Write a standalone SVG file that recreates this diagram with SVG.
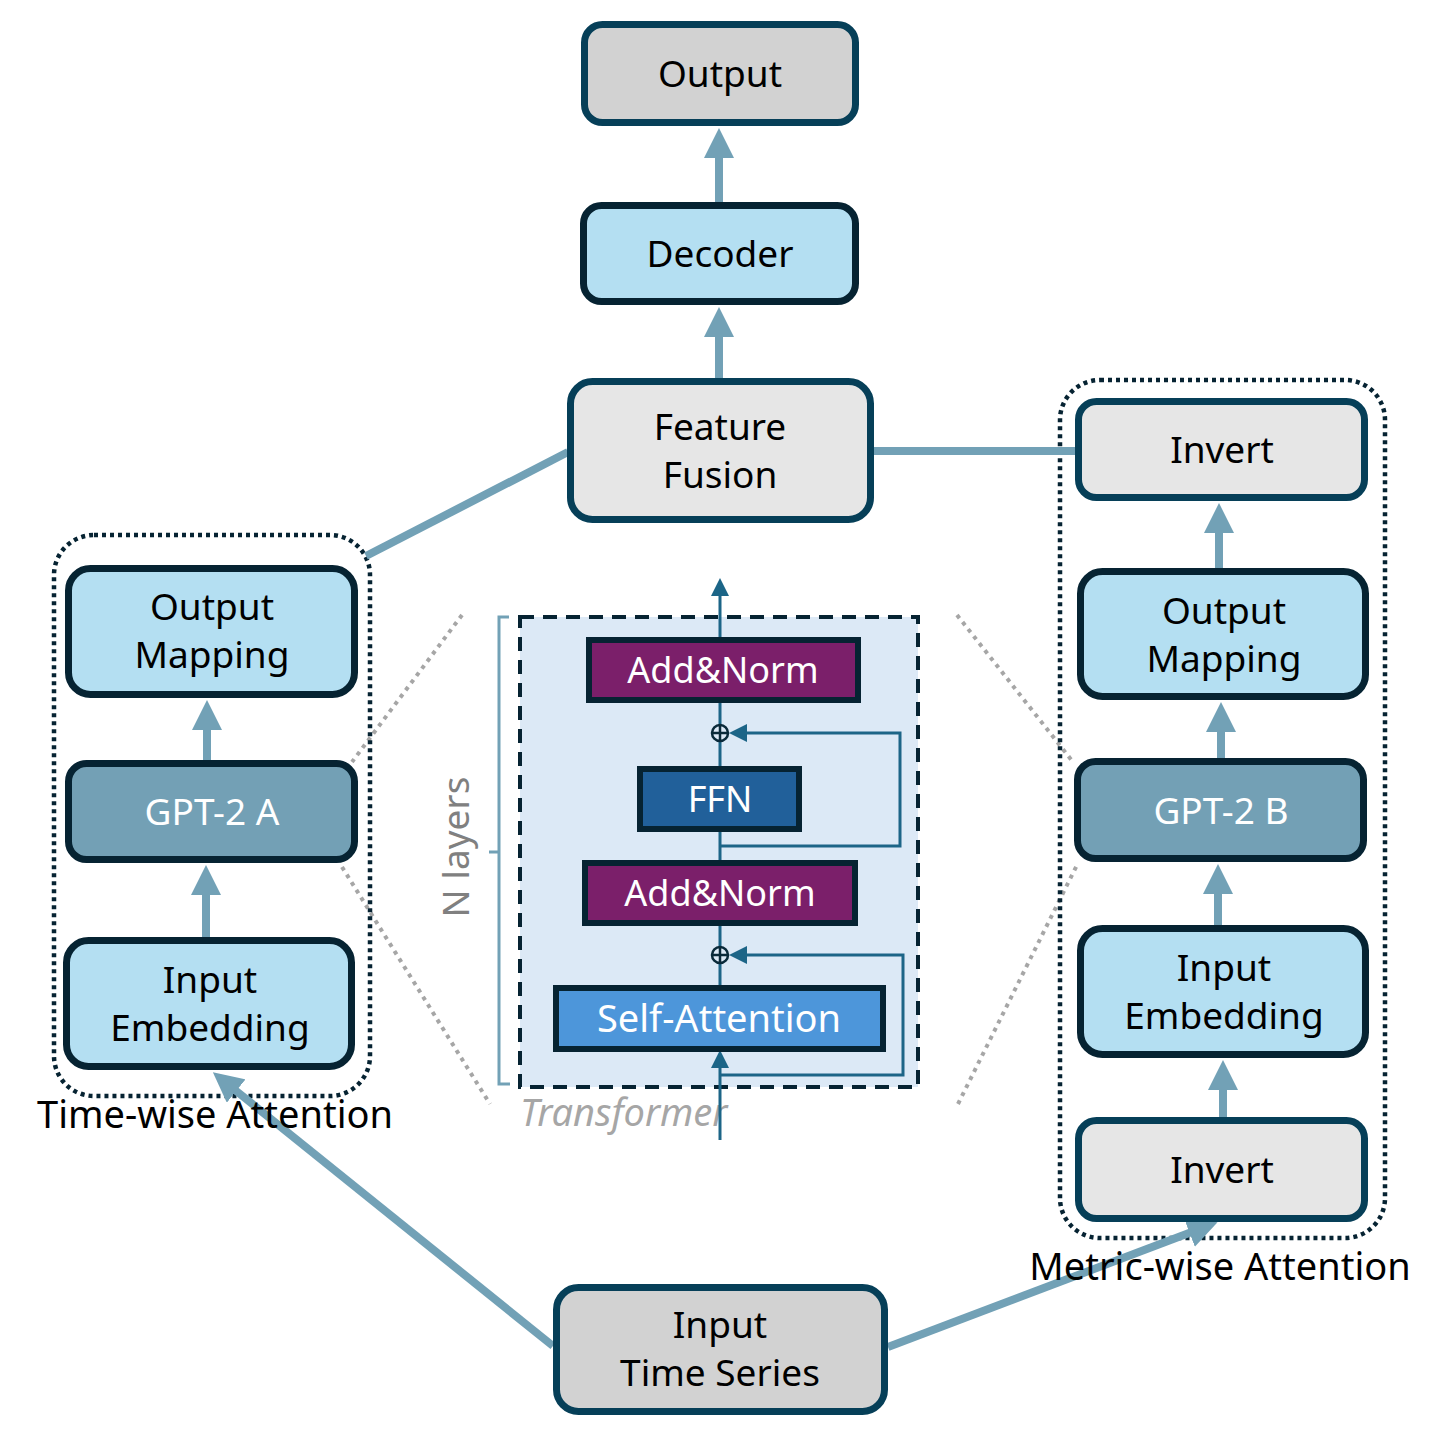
<svg xmlns="http://www.w3.org/2000/svg" width="1440" height="1440" viewBox="0 0 1440 1440">
<style>
.node{stroke-width:7}
.grey{fill:#d2d2d2;stroke:#063f58}
.light{fill:#e6e6e6;stroke:#063f58}
.blue{fill:#b4dff2;stroke:#062332}
.gpt{fill:#73a0b5;stroke:#062332}
.t{font-family:"Noto Sans","Open Sans",sans-serif;font-size:37px;fill:#000;text-anchor:middle}
.w{fill:#fff}
.tb{stroke:#062332;stroke-width:6}
.tt{font-family:"Noto Sans","Open Sans",sans-serif;font-size:36px;fill:#fff;text-anchor:middle}
.conn{stroke:#72a1b6;stroke-width:8;fill:none}
.thin{stroke:#1c6587;stroke-width:3;fill:none}
.zoom{stroke:#a6a6a6;stroke-width:4;stroke-dasharray:4 5;fill:none}
.grp{fill:none;stroke:#062332;stroke-width:4.5;stroke-dasharray:4 4}
</style>
<defs>
<marker id="ah" markerUnits="userSpaceOnUse" viewBox="0 0 30 30" markerWidth="30" markerHeight="30" refX="8" refY="15" orient="auto">
<path d="M0,0 L30,15 L0,30 z" fill="#72a1b6"/>
</marker>
<marker id="ahs" markerUnits="userSpaceOnUse" viewBox="0 0 18 18" markerWidth="18" markerHeight="18" refX="4" refY="9" orient="auto">
<path d="M0,0 L18,9 L0,18 z" fill="#1c6587"/>
</marker>
</defs>
<rect width="1440" height="1440" fill="#fff"/>

<g id="zoom-lines">
<line class="zoom" x1="462" y1="615" x2="352" y2="762"/>
<line class="zoom" x1="342" y1="867" x2="490" y2="1104"/>
<line class="zoom" x1="957" y1="615" x2="1073" y2="762"/>
<line class="zoom" x1="958" y1="1104" x2="1078" y2="863"/>
</g>

<g id="group-time">
<rect class="grp" x="54" y="535" width="316" height="561" rx="40"/>
</g>
<g id="group-metric">
<rect class="grp" x="1060" y="380" width="325" height="858" rx="40"/>
</g>

<g id="transformer">
<rect x="520" y="617" width="398" height="470" fill="#dce9f6" stroke="#062332" stroke-width="4" stroke-dasharray="14 9"/>
<path d="M509,617 H499 V1084 H510 M499,852 H489" stroke="#72a1b6" stroke-width="3" fill="none"/>
<text x="469" y="847" transform="rotate(-90 469 847)" font-family="Noto Sans, sans-serif" font-size="37" fill="#808080" text-anchor="middle">N layers</text>
<text x="520" y="1126" font-family="Noto Sans, sans-serif" font-size="38" font-style="italic" fill="#a6a6a6">Transformer</text>
</g>

<g id="transformer-connectors">
<line class="thin" x1="720" y1="1140" x2="720" y2="1064" marker-end="url(#ahs)"/>
<line class="thin" x1="720" y1="985" x2="720" y2="592" marker-end="url(#ahs)"/>
<path class="thin" d="M720,1075 H903 V955 H743" marker-end="url(#ahs)"/>
<path class="thin" d="M720,846 H900 V733 H743" marker-end="url(#ahs)"/>
</g>

<g id="add1">
<circle cx="720" cy="955" r="8" fill="#dce9f6" stroke="#0a2a3a" stroke-width="2.5"/>
<path d="M712,955 H728 M720,947 V963" stroke="#0a2a3a" stroke-width="2.5"/>
</g>
<g id="add2">
<circle cx="720" cy="733" r="8" fill="#dce9f6" stroke="#0a2a3a" stroke-width="2.5"/>
<path d="M712,733 H728 M720,725 V741" stroke="#0a2a3a" stroke-width="2.5"/>
</g>

<g id="addnorm-top">
<rect class="tb" x="589" y="640" width="269" height="60" fill="#7b1f6a"/>
<text class="tt" x="723" y="683">Add&amp;Norm</text>
</g>
<g id="ffn">
<rect class="tb" x="640" y="769" width="159" height="60" fill="#21609a"/>
<text class="tt" x="720" y="812">FFN</text>
</g>
<g id="addnorm-bottom">
<rect class="tb" x="585" y="863" width="270" height="60" fill="#7b1f6a"/>
<text class="tt" x="720" y="906">Add&amp;Norm</text>
</g>
<g id="self-attention">
<rect class="tb" x="556" y="988" width="327" height="61" fill="#4d96da"/>
<text class="tt" x="719" y="1032" style="font-size:38px">Self-Attention</text>
</g>

<g id="connectors">
<line class="conn" x1="719" y1="202" x2="719" y2="150" marker-end="url(#ah)"/>
<line class="conn" x1="719" y1="378" x2="719" y2="329" marker-end="url(#ah)"/>
<line class="conn" x1="366" y1="556" x2="568" y2="452"/>
<line class="conn" x1="874" y1="451" x2="1076" y2="451"/>
<line class="conn" x1="1219" y1="568" x2="1219" y2="525" marker-end="url(#ah)"/>
<line class="conn" x1="1221" y1="758" x2="1221" y2="724" marker-end="url(#ah)"/>
<line class="conn" x1="1218" y1="925" x2="1218" y2="886" marker-end="url(#ah)"/>
<line class="conn" x1="1223" y1="1117" x2="1223" y2="1082" marker-end="url(#ah)"/>
<line class="conn" x1="207" y1="760" x2="207" y2="722" marker-end="url(#ah)"/>
<line class="conn" x1="206" y1="937" x2="206" y2="887" marker-end="url(#ah)"/>
<line class="conn" x1="553" y1="1346" x2="230" y2="1086" marker-end="url(#ah)"/>
<line class="conn" x1="888" y1="1347" x2="1197" y2="1230" marker-end="url(#ah)"/>
</g>

<g id="output">
<rect class="node grey" x="584.5" y="24.5" width="271" height="98" rx="18"/>
<text class="t" x="720" y="87">Output</text>
</g>
<g id="decoder">
<rect class="node blue" x="583.5" y="205.5" width="272" height="96" rx="18"/>
<text class="t" x="720" y="267">Decoder</text>
</g>
<g id="feature-fusion">
<rect class="node light" x="570.5" y="381.5" width="300" height="138" rx="22"/>
<text class="t" x="720" y="440">Feature</text>
<text class="t" x="720" y="488">Fusion</text>
</g>
<g id="output-mapping-a">
<rect class="node blue" x="68.5" y="568.5" width="286" height="126" rx="22"/>
<text class="t" x="212" y="620">Output</text>
<text class="t" x="212" y="668">Mapping</text>
</g>
<g id="gpt2-a">
<rect class="node gpt" x="68.5" y="763.5" width="286" height="96" rx="18"/>
<text class="t w" x="212" y="825">GPT-2 A</text>
</g>
<g id="input-embedding-a">
<rect class="node blue" x="66.5" y="940.5" width="285" height="126" rx="22"/>
<text class="t" x="210" y="993">Input</text>
<text class="t" x="210" y="1041">Embedding</text>
</g>
<g id="invert-top">
<rect class="node light" x="1078.5" y="401.5" width="286" height="96" rx="18"/>
<text class="t" x="1222" y="463">Invert</text>
</g>
<g id="output-mapping-b">
<rect class="node blue" x="1080.5" y="571.5" width="285" height="125" rx="22"/>
<text class="t" x="1224" y="624">Output</text>
<text class="t" x="1224" y="672">Mapping</text>
</g>
<g id="gpt2-b">
<rect class="node gpt" x="1077.5" y="761.5" width="286" height="97" rx="18"/>
<text class="t w" x="1221" y="824">GPT-2 B</text>
</g>
<g id="input-embedding-b">
<rect class="node blue" x="1080.5" y="928.5" width="285" height="126" rx="22"/>
<text class="t" x="1224" y="981">Input</text>
<text class="t" x="1224" y="1029">Embedding</text>
</g>
<g id="invert-bottom">
<rect class="node light" x="1078.5" y="1120.5" width="286" height="98" rx="18"/>
<text class="t" x="1222" y="1183">Invert</text>
</g>
<g id="input-time-series">
<rect class="node grey" x="556.5" y="1287.5" width="328" height="124" rx="22"/>
<text class="t" x="720" y="1338">Input</text>
<text class="t" x="720" y="1386">Time Series</text>
</g>

<g id="labels">
<text class="t" x="215" y="1128" style="font-size:38px">Time-wise Attention</text>
<text class="t" x="1220" y="1280" style="font-size:38px">Metric-wise Attention</text>
</g>
</svg>
